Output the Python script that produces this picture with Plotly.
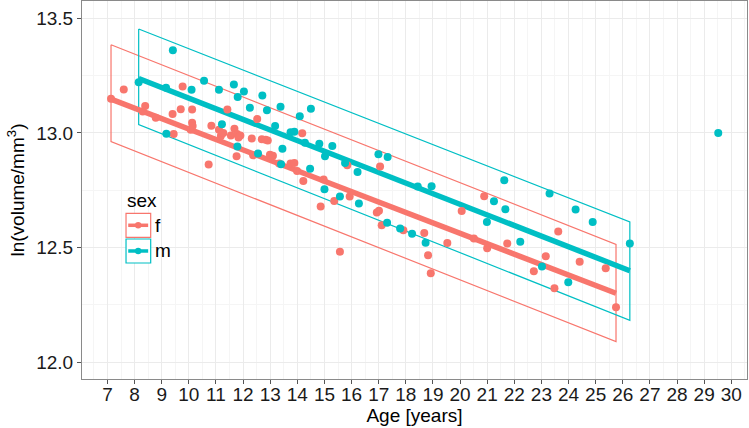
import plotly.graph_objects as go

# ---- data ----
age_f = [7.13, 7.60, 8.30, 8.39, 8.78, 9.40, 9.44, 9.70, 9.77, 10.12, 10.12, 10.07, 10.14,
         10.73, 10.83, 11.11, 11.18, 11.27, 11.42, 11.55, 11.68, 11.78, 11.83, 11.76, 11.90,
         12.32, 12.37, 12.52, 12.69, 12.83, 12.91, 12.99, 13.10, 13.33, 13.75, 13.89, 13.99,
         14.18, 14.22, 14.97, 14.86, 15.36, 15.57, 15.84, 15.93, 16.93, 17.01, 17.05, 17.11,
         17.91, 18.68, 18.82, 18.92, 19.53, 20.06, 20.51, 20.89, 21.00, 21.74, 22.72, 23.16,
         23.48, 23.62, 24.41, 25.37, 25.75]
vol_f = [13.149, 13.189, 13.093, 13.117, 13.066, 13.082, 12.995, 13.103, 13.202, 13.102, 13.044,
         13.014, 13.030, 12.862, 13.031, 13.014, 12.986, 13.000, 13.102, 12.989, 13.018, 12.995,
         12.980, 12.898, 12.989, 12.975, 12.902, 13.060, 12.972, 12.970, 12.967, 12.905, 12.900,
         12.866, 12.866, 12.869, 12.834, 12.998, 12.790, 12.797, 12.679, 12.703, 12.482, 12.859,
         12.723, 12.653, 12.660, 12.853, 12.597, 12.576, 12.563, 12.466, 12.388, 12.520, 12.659,
         12.540, 12.724, 12.497, 12.518, 12.397, 12.462, 12.323, 12.570, 12.438, 12.410, 12.240]

age_m = [8.15, 9.16, 9.17, 9.41, 10.10, 10.56, 11.11, 11.22, 11.66, 11.79, 11.80, 12.03, 12.25,
         12.55, 12.71, 12.88, 13.18, 13.38, 13.45, 13.40, 13.75, 13.89, 14.09, 14.28, 14.47,
         14.50, 14.81, 15.00, 15.02, 15.29, 15.57, 15.76, 16.22, 16.27, 16.99, 17.31, 17.33,
         17.79, 18.23, 18.44, 18.73, 18.95, 20.99, 21.25, 21.63, 21.67, 22.22, 23.02, 23.30,
         23.99, 24.26, 24.89, 26.26, 29.52]
vol_m = [13.221, 13.197, 12.996, 13.360, 13.188, 13.227, 13.188, 13.038, 13.211, 12.941, 13.156,
         13.180, 13.110, 12.910, 13.163, 13.099, 13.030, 13.114, 12.931, 12.863, 13.003, 13.005,
         13.072, 12.957, 12.844, 13.105, 12.953, 12.754, 12.898, 12.943, 12.723, 12.869, 12.830,
         12.692, 12.907, 12.608, 12.895, 12.583, 12.560, 12.766, 12.521, 12.767, 12.611, 12.702,
         12.793, 12.667, 12.525, 12.417, 12.736, 12.349, 12.666, 12.612, 12.518, 13.000]

# fitted line and prediction interval (endpoints)
fit_age_f = [7.13, 25.75]
fit_f = [13.147, 12.301]
upr_f = [13.384, 12.514]
lwr_f = [12.962, 12.090]

fit_age_m = [8.15, 26.26]
fit_m = [13.237, 12.399]
upr_m = [13.453, 12.612]
lwr_m = [13.036, 12.183]

x_ticks = list(range(7, 31))
y_ticks = [12.0, 12.5, 13.0, 13.5]

COL_F = "#F8766D"
COL_M = "#00BFC4"
FONT = "Liberation Sans, Arial, Helvetica, sans-serif"

fig = go.Figure()

def box(xs, up, lo, col):
    bx = [xs[0], xs[1], xs[1], xs[0], xs[0]]
    by = [up[0], up[1], lo[1], lo[0], up[0]]
    fig.add_trace(go.Scatter(x=bx, y=by, mode="lines", line=dict(color=col, width=1.2),
                             hoverinfo="skip", showlegend=False))

box(fit_age_f, upr_f, lwr_f, COL_F)
box(fit_age_m, upr_m, lwr_m, COL_M)

fig.add_trace(go.Scatter(x=fit_age_f, y=fit_f, mode="lines", line=dict(color=COL_F, width=5.5),
                         showlegend=False))
fig.add_trace(go.Scatter(x=fit_age_m, y=fit_m, mode="lines", line=dict(color=COL_M, width=5.5),
                         showlegend=False))

fig.add_trace(go.Scatter(x=age_f, y=vol_f, mode="markers", name="f",
                         marker=dict(color=COL_F, size=8), showlegend=False))
fig.add_trace(go.Scatter(x=age_m, y=vol_m, mode="markers", name="m",
                         marker=dict(color=COL_M, size=8), showlegend=False))

# ---- manual legend (paper coords) ----
shapes = []
annotations = []
legend_items = [("f", COL_F, 0.4384, 0.3749), ("m", COL_M, 0.3704, 0.3069)]
for lab, col, ytop, ybot in legend_items:
    yc = (ytop + ybot) / 2
    shapes.append(dict(type="rect", xref="paper", yref="paper", x0=0.0662, x1=0.1033,
                       y0=ybot, y1=ytop, line=dict(color=col, width=1.2), fillcolor="white"))
    shapes.append(dict(type="line", xref="paper", yref="paper", x0=0.0695, x1=0.0995,
                       y0=yc, y1=yc, line=dict(color=col, width=3.5)))
    shapes.append(dict(type="circle", xref="paper", yref="paper", x0=0.0845 - 0.0048,
                       x1=0.0845 + 0.0048, y0=yc - 0.0085, y1=yc + 0.0085,
                       fillcolor=col, line=dict(width=0)))
    annotations.append(dict(text=lab, xref="paper", yref="paper", x=0.1075, y=yc,
                            xanchor="left", yanchor="middle", showarrow=False,
                            font=dict(family=FONT, size=19, color="black")))
annotations.append(dict(text="sex", xref="paper", yref="paper", x=0.064, y=0.4709,
                        xanchor="left", yanchor="middle", showarrow=False,
                        font=dict(family=FONT, size=19, color="black")))

axis_common = dict(showline=True, mirror=True, linecolor="#8a8a8a", linewidth=1,
                   ticks="outside", ticklen=4, tickcolor="#555", tickwidth=1,
                   gridcolor="#ebebeb", gridwidth=1, zeroline=False,
                   tickfont=dict(family=FONT, size=19, color="#1a1a1a"))

fig.update_layout(
    width=749, height=428,
    margin=dict(l=82, r=2, t=1, b=49),
    plot_bgcolor="white", paper_bgcolor="white",
    font=dict(family=FONT, size=19, color="black"),
    xaxis=dict(range=[6.06, 30.58], tickvals=x_ticks, ticktext=[str(v) for v in x_ticks],
               ticklabelstandoff=-6,
               minor=dict(dtick=0.5, tick0=6.5, showgrid=True, gridcolor="#f5f5f5", gridwidth=0.6,
                          ticks=""),
               title=dict(text="Age [years]", font=dict(family=FONT, size=19), standoff=0),
               automargin=False, **axis_common),
    yaxis=dict(range=[11.927, 13.575], tickvals=y_ticks, ticktext=["12.0", "12.5", "13.0", "13.5"],
               minor=dict(dtick=0.25, tick0=11.75, showgrid=True, gridcolor="#f5f5f5", gridwidth=0.6,
                          ticks=""),
               title=dict(text="ln(volume/mm<sup>3</sup>)", font=dict(family=FONT, size=19), standoff=6),
               automargin=False, **axis_common),
    shapes=shapes, annotations=annotations,
    showlegend=False,
)

fig.write_html("out.html", config={"displayModeBar": False},
               post_script="document.body.style.margin='0';document.body.style.overflow='hidden';")
